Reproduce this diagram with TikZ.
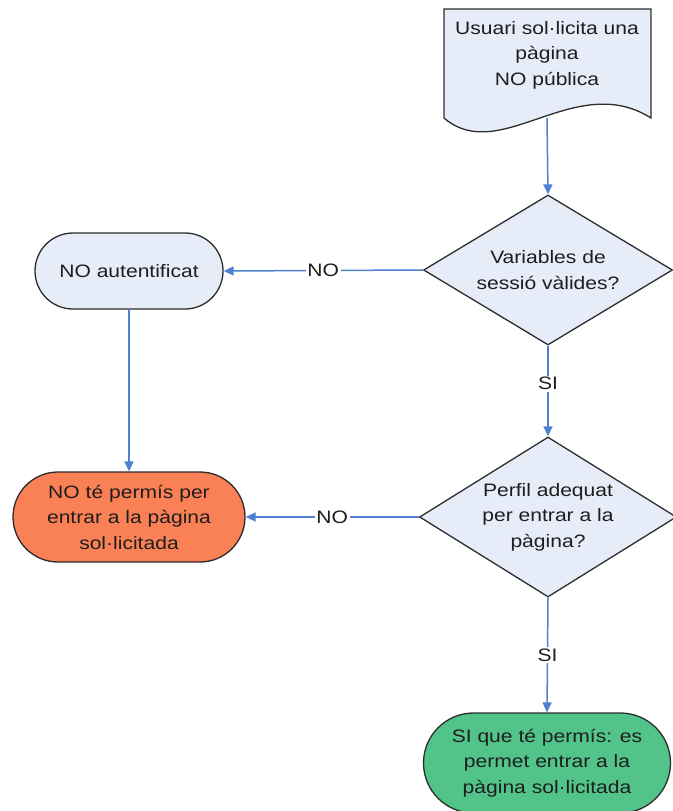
\documentclass[tikz,border=0pt]{standalone}
\usepackage{fontspec}
\setmainfont[FakeStretch=1.17]{Liberation Sans}
\usetikzlibrary{shapes.geometric,arrows.meta}
\definecolor{boxfill}{RGB}{231,237,248}
\definecolor{denyfill}{RGB}{250,128,86}
\definecolor{grantfill}{RGB}{82,196,138}
\definecolor{edgeline}{RGB}{45,45,45}
\definecolor{flowblue}{RGB}{78,128,210}
\definecolor{txt}{RGB}{30,30,30}
\tikzset{
  base/.style={draw=edgeline, line width=1.3pt, text=txt, align=center,
    font=\fontsize{18}{25.5}\selectfont, inner sep=0pt},
  decision/.style={base, diamond, fill=boxfill, aspect=1.66},
  terminal/.style={base, rectangle},
  flow/.style={draw=flowblue, line width=1.5pt, -{Triangle[length=10pt,width=9pt]}},
  choice/.style={fill=white, text=txt, inner sep=1.5pt,
    font=\fontsize{18}{20}\selectfont},
}
\begin{document}
\begin{tikzpicture}[x=1pt,y=-1pt]
\useasboundingbox (0,0) rectangle (672,811);
\fill[white] (0,0) rectangle (672,811);

% document symbol with wavy lower edge
\coordinate (doctl) at (444,9);
\coordinate (doctr) at (651,9);
\coordinate (docbr) at (651,118);
\coordinate (docbl) at (444,118);
\coordinate (docbottom) at (547,118);
\draw[draw=edgeline, line width=1.3pt, fill=boxfill]
  (docbl) -- (doctl) -- (doctr) -- (docbr)
  .. controls (575,70) and (500,166) .. (docbl) -- cycle;
\node[base, draw=none] (request) at (547,55) {Usuari sol·licita una\\pàgina\\NO pública};

% decisions
\node[decision, minimum width=249pt, minimum height=150pt] (session) at (548,270)
  {Variables de\\sessió vàlides?};
\node[decision, minimum width=257pt, minimum height=160pt] (profile) at (548,517)
  {Perfil adequat\\per entrar a la\\pàgina?};

% outcomes
\node[terminal, fill=boxfill, minimum width=188pt, minimum height=76pt,
  rounded corners=38pt] (noauth) at (129,271) {NO autentificat};
\node[terminal, fill=denyfill, minimum width=232pt, minimum height=90pt,
  rounded corners=45pt] (denied) at (129,517)
  {NO té permís per\\entrar a la pàgina\\sol·licitada};
\node[terminal, fill=grantfill, minimum width=247pt, minimum height=100pt,
  rounded corners=50pt] (granted) at (547,763)
  {SI que té permís: es\\permet entrar a la\\pàgina sol·licitada};

% connectors
\draw[flow] (docbottom) -- (session.north);
\draw[flow] (session.west) -- node[choice] {NO} (noauth.east);
\draw[flow] (session.south) -- node[choice, pos=0.42] {SI} (profile.north);
\draw[flow] (noauth.south) -- (denied.north);
\draw[flow] (profile.west) -- node[choice] {NO} (denied.east);
\draw[flow] (profile.south) -- node[choice] {SI} (granted.north);
\end{tikzpicture}
\end{document}
